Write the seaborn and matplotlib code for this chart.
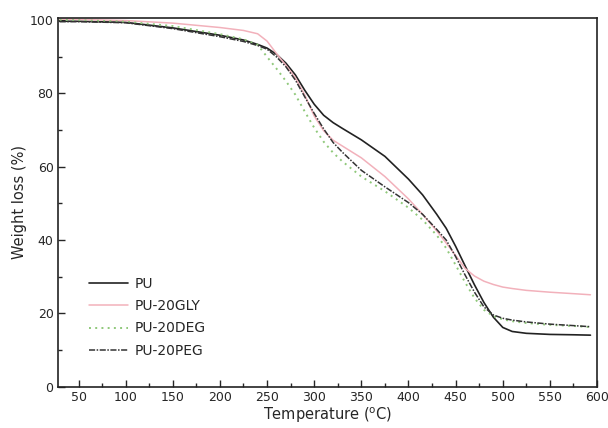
import matplotlib
matplotlib.use("Agg")
import matplotlib.pyplot as plt
from matplotlib.ticker import MultipleLocator
import seaborn as sns

# curvas TGA
temp = [30, 50, 100, 150, 200, 225, 240, 250, 260, 270, 280, 290, 300, 310, 320, 330, 350,
        375, 400, 415, 430, 440, 450, 460, 470, 480, 490, 500, 510, 525, 550, 575, 593]
pu = [99.6, 99.6, 99.3, 97.8, 95.8, 94.5, 93.3, 92.3, 90.6, 88.2, 85.0, 80.8, 77.0, 74.0, 72.0, 70.4, 67.3,
      62.8, 56.6, 52.3, 47.0, 43.2, 38.3, 33.0, 27.8, 23.0, 19.0, 16.2, 15.1, 14.6, 14.3, 14.2, 14.1]
gly = [100.2, 100.1, 99.8, 99.1, 97.9, 97.1, 96.2, 94.2, 90.8, 87.6, 84.2, 79.5, 73.8, 69.8, 67.2, 65.6, 62.4,
       57.3, 51.2, 47.0, 42.5, 39.2, 35.8, 32.3, 30.2, 28.8, 27.9, 27.2, 26.8, 26.3, 25.8, 25.4, 25.1]
deg = [100.0, 99.9, 99.5, 98.3, 96.1, 94.7, 93.2, 89.9, 86.7, 83.3, 79.6, 75.0, 70.6, 66.8, 63.8, 61.4, 57.3,
       53.3, 48.8, 45.5, 41.3, 37.8, 33.2, 28.5, 24.2, 21.0, 19.3, 18.4, 17.9, 17.4, 16.9, 16.6, 16.3]
peg = [99.5, 99.5, 99.2, 97.6, 95.4, 94.1, 93.0, 92.0, 89.9, 87.2, 83.6, 79.0, 74.5, 70.3, 66.6, 63.9, 59.0,
       54.5, 50.2, 47.0, 42.9, 40.0, 35.5, 30.5, 25.8, 21.8, 19.6, 18.7, 18.2, 17.7, 17.1, 16.7, 16.4]

labels = ["PU", "PU-20GLY", "PU-20DEG", "PU-20PEG"]

sns.set_style("white")
plt.rcParams['font.family'] = ['DejaVu Sans']

fig = plt.figure(figsize=(6.08, 4.28), dpi=100)
ax = fig.add_axes([0.095, 0.096, 0.887, 0.862])

sns.lineplot(x=temp, y=pu, ax=ax, color="#222222", lw=1.2, label=labels[0])
sns.lineplot(x=temp, y=gly, ax=ax, color="#f2b1bb", lw=1.1, label=labels[1])
sns.lineplot(x=temp, y=deg, ax=ax, color="#8fc87a", lw=1.4, linestyle=(0, (1, 2.2)), label=labels[2])
sns.lineplot(x=temp, y=peg, ax=ax, color="#333333", lw=1.1, linestyle=(0, (4, 1, 1, 1)), label=labels[3])

ax.set_xlim(28, 600)
ax.set_ylim(0, 100.5)
ax.xaxis.set_major_locator(MultipleLocator(50))
ax.xaxis.set_minor_locator(MultipleLocator(25))
ax.yaxis.set_major_locator(MultipleLocator(20))
ax.yaxis.set_minor_locator(MultipleLocator(10))
ax.tick_params(which="both", direction="in", bottom=True, left=True, top=False, right=False,
               labelsize=9, pad=3)
ax.tick_params(which="major", length=5, width=1)
ax.tick_params(which="minor", length=3, width=1)
for s in ax.spines.values():
    s.set_linewidth(1.2)
    s.set_color("#222222")

ax.set_xlabel(r"Temperature ($\mathregular{^{o}}$C)", fontsize=10.5, labelpad=1)
ax.set_ylabel("Weight loss (%)", fontsize=10.5, labelpad=2)

leg = ax.legend(loc="lower left", bbox_to_anchor=(0.035, 0.045), frameon=False, fontsize=10,
                handlelength=2.8, handletextpad=0.5, labelspacing=0.6)

fig.savefig("out.png", dpi=100)
